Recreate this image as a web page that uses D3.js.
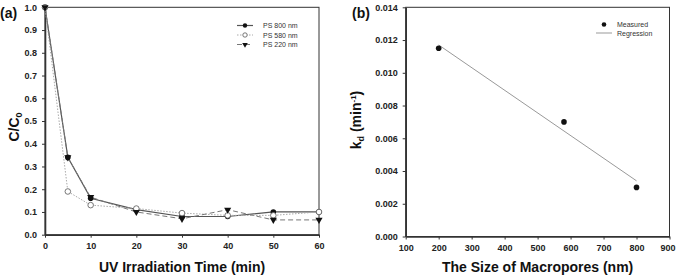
<!DOCTYPE html>
<html lang="en">
<head>
  <meta charset="utf-8">
  <title>Photodegradation of PS macropores</title>
  <script src="https://d3js.org/d3.v7.min.js" charset="utf-8"></script>
  <style>
    body {
      margin: 0;
      background: #fff;
      font-family: "Liberation Sans", Arial, sans-serif;
    }
    .tick text {
      font-size: 9px;
      font-weight: bold;
      fill: #222;
    }
    .tick line, .axis path {
      stroke: #333;
    }
    .title {
      font-size: 14px;
      font-weight: bold;
      fill: #111;
    }
    .legend text {
      font-size: 7px;
      fill: #333;
    }
  </style>
</head>
<body>
  <script>
    // panel (a) - C/C0 vs UV irradiation time
    var timeMin = [0, 5, 10, 20, 30, 40, 50, 60];
    var ps800 = [1.0, 0.34, 0.16, 0.11, 0.08, 0.08, 0.10, 0.10];
    var ps580 = [1.0, 0.19, 0.13, 0.115, 0.095, 0.085, 0.085, 0.10];
    var ps220 = [1.0, 0.34, 0.165, 0.10, 0.07, 0.11, 0.065, 0.065];
    var seriesNames = ["PS 800 nm", "PS 580 nm", "PS 220 nm"];
    var timeTicks = [0, 10, 20, 30, 40, 50, 60];
    var ratioTicks = [0, 0.1, 0.2, 0.3, 0.4, 0.5, 0.6, 0.7, 0.8, 0.9, 1.0];

    // panel (b) - kd vs macropore size
    var poreSize = [200, 580, 800];
    var kdMeasured = [0.0115, 0.0070, 0.0030];
    var regX = [200, 800];
    var regY = [0.0117, 0.0034];
    var sizeTicks = [100, 200, 300, 400, 500, 600, 700, 800, 900];
    var kdTicks = [0, 0.002, 0.004, 0.006, 0.008, 0.010, 0.012, 0.014];

    var width = 676, height = 278;

    var svg = d3.select("body").append("svg")
      .attr("width", width)
      .attr("height", height);

    // ---------- (a) ----------
    var xa = d3.scaleLinear().domain([0, 60]).range([45, 319]);
    var ya = d3.scaleLinear().domain([0, 1]).range([234.7, 7.3]);

    var ga = svg.append("g");

    // frame
    ga.append("rect")
      .attr("x", xa(0)).attr("y", ya(1))
      .attr("width", xa(60) - xa(0)).attr("height", ya(0) - ya(1))
      .attr("fill", "none").attr("stroke", "#333").attr("stroke-width", 1);

    ga.append("g").attr("class", "axis")
      .attr("transform", "translate(0," + ya(0) + ")")
      .call(d3.axisBottom(xa).tickValues(timeTicks).tickSize(3).tickSizeOuter(0).tickPadding(5))
      .select(".domain").attr("stroke-width", 1.6);

    ga.append("g").attr("class", "axis")
      .attr("transform", "translate(" + xa(0) + ",0)")
      .call(d3.axisLeft(ya).tickValues(ratioTicks).tickFormat(d3.format(".1f")).tickSize(3).tickSizeOuter(0).tickPadding(5))
      .select(".domain").attr("stroke-width", 1.6);

    var styles = [
      { vals: ps800, color: "#555", dash: null, width: 1.2, mark: "circleFilled" },
      { vals: ps580, color: "#aaa", dash: "1.5,1.5", width: 1, mark: "circleOpen" },
      { vals: ps220, color: "#777", dash: "5,3", width: 1, mark: "triangle" }
    ];

    var line = d3.line()
      .x(function(d) { return xa(d[0]); })
      .y(function(d) { return ya(d[1]); });

    function drawMark(g, kind, x, y, r) {
      if (kind == "circleFilled") {
        g.append("circle").attr("cx", x).attr("cy", y).attr("r", r).attr("fill", "#111");
      } else if (kind == "circleOpen") {
        g.append("circle").attr("cx", x).attr("cy", y).attr("r", r)
          .attr("fill", "#fff").attr("stroke", "#555").attr("stroke-width", 0.8);
      } else {
        g.append("path")
          .attr("d", d3.symbol().type(d3.symbolTriangle).size(r * r * 2.8)())
          .attr("transform", "translate(" + x + "," + y + ") rotate(180)")
          .attr("fill", "#111");
      }
    }

    styles.forEach(function(s) {
      var pts = timeMin.map(function(t, i) { return [t, s.vals[i]]; });
      ga.append("path")
        .attr("d", line(pts))
        .attr("fill", "none")
        .attr("stroke", s.color)
        .attr("stroke-width", s.width)
        .attr("stroke-dasharray", s.dash);
    });
    styles.forEach(function(s) {
      timeMin.forEach(function(t, i) {
        drawMark(ga, s.mark, xa(t), ya(s.vals[i]), 2.8);
      });
    });

    // legend (a)
    var la = ga.append("g").attr("class", "legend");
    styles.forEach(function(s, i) {
      var ly = 25.5 + i * 9.5;
      la.append("line")
        .attr("x1", 237).attr("x2", 253).attr("y1", ly).attr("y2", ly)
        .attr("stroke", s.color).attr("stroke-width", s.width)
        .attr("stroke-dasharray", s.dash);
      drawMark(la, s.mark, 245, ly, 2.2);
      la.append("text").attr("x", 263).attr("y", ly + 2.5).text(seriesNames[i]);
    });

    ga.append("text").attr("class", "title")
      .attr("x", xa(30)).attr("y", 272).attr("text-anchor", "middle")
      .text("UV Irradiation Time (min)");

    var yta = ga.append("text").attr("class", "title")
      .attr("transform", "translate(19,127) rotate(-90)")
      .attr("text-anchor", "middle");
    yta.append("tspan").text("C/C");
    yta.append("tspan").attr("font-size", "9px").attr("dy", 3).text("0");

    svg.append("text").attr("class", "title")
      .attr("x", 0).attr("y", 18).text("(a)");

    // ---------- (b) ----------
    var xb = d3.scaleLinear().domain([100, 900]).range([405.7, 669.5]);
    var yb = d3.scaleLinear().domain([0, 0.014]).range([236.5, 7.3]);

    var gb = svg.append("g");

    gb.append("rect")
      .attr("x", xb(100)).attr("y", yb(0.014))
      .attr("width", xb(900) - xb(100)).attr("height", yb(0) - yb(0.014))
      .attr("fill", "none").attr("stroke", "#333").attr("stroke-width", 1);

    var xAxisB = gb.append("g").attr("class", "axis")
      .attr("transform", "translate(0," + yb(0) + ")")
      .call(d3.axisBottom(xb).tickValues(sizeTicks).tickSize(3).tickSizeOuter(0).tickPadding(5));
    xAxisB.select(".domain").attr("stroke-width", 1.6);
    // last label sits on the page edge, nudge it in a bit
    xAxisB.selectAll(".tick text").filter(function(d) { return d == 900; }).attr("dx", -2);

    gb.append("g").attr("class", "axis")
      .attr("transform", "translate(" + xb(100) + ",0)")
      .call(d3.axisLeft(yb).tickValues(kdTicks).tickFormat(d3.format(".3f")).tickSize(3).tickSizeOuter(0).tickPadding(5))
      .select(".domain").attr("stroke-width", 1.6);

    gb.append("line")
      .attr("x1", xb(regX[0])).attr("y1", yb(regY[0]))
      .attr("x2", xb(regX[1])).attr("y2", yb(regY[1]))
      .attr("stroke", "#999").attr("stroke-width", 1);

    gb.selectAll("circle.meas")
      .data(poreSize)
      .enter()
      .append("circle")
      .attr("class", "meas")
      .attr("cx", function(d) { return xb(d); })
      .attr("cy", function(d, i) { return yb(kdMeasured[i]); })
      .attr("r", 2.8)
      .attr("fill", "#111");

    var lb = gb.append("g").attr("class", "legend");
    lb.append("circle").attr("cx", 604).attr("cy", 24.5).attr("r", 2.3).attr("fill", "#111");
    lb.append("text").attr("x", 617).attr("y", 27).text("Measured");
    lb.append("line").attr("x1", 596).attr("x2", 612).attr("y1", 33).attr("y2", 33)
      .attr("stroke", "#999").attr("stroke-width", 1);
    lb.append("text").attr("x", 617).attr("y", 35.5).text("Regression");

    gb.append("text").attr("class", "title")
      .attr("x", xb(500)).attr("y", 272).attr("text-anchor", "middle")
      .text("The Size of Macropores (nm)");

    var ytb = gb.append("text").attr("class", "title")
      .attr("transform", "translate(361,120) rotate(-90)")
      .attr("text-anchor", "middle");
    ytb.append("tspan").text("k");
    ytb.append("tspan").attr("font-size", "9px").attr("dy", 3).text("d");
    ytb.append("tspan").attr("dy", -3).text(" (min");
    ytb.append("tspan").attr("font-size", "8px").attr("dy", -5).text("-1");
    ytb.append("tspan").attr("dy", 5).text(")");

    svg.append("text").attr("class", "title")
      .attr("x", 352).attr("y", 18).text("(b)");
  </script>
</body>
</html>
